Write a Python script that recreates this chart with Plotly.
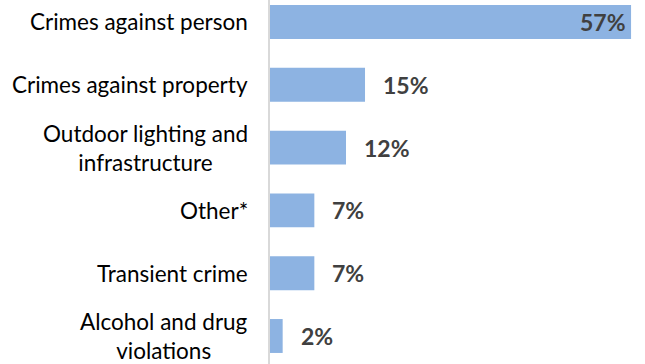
import plotly.graph_objects as go

categories = [
    "Crimes against person",
    "Crimes against property",
    "Outdoor lighting and<br>infrastructure",
    "Other*",
    "Transient crime",
    "Alcohol and drug<br>violations",
]
values = [57, 15, 12, 7, 7, 2]
value_labels = [f"{v}%" for v in values]

bar_color = "#8DB3E2"
label_color = "#404040"
font_family = "Lato, 'Open Sans', sans-serif"

fig = go.Figure(
    go.Bar(
        x=values,
        y=categories,
        orientation="h",
        marker=dict(color=bar_color, line=dict(width=0)),
        hoverinfo="skip",
    )
)

annotations = []
# category names, centred line by line and right-anchored next to the axis
for cat in categories:
    annotations.append(
        dict(
            x=0,
            xref="paper",
            y=cat,
            text=cat,
            showarrow=False,
            xanchor="right",
            align="center",
            xshift=-20,
            font=dict(size=22.5, color="#000000", family=font_family),
        )
    )

# value labels: outside the bar end, except the longest bar which is labelled inside
for cat, v, lab in zip(categories, values, value_labels):
    inside = v == max(values)
    annotations.append(
        dict(
            x=v,
            y=cat,
            text=f"<b>{lab}</b>",
            showarrow=False,
            xanchor="right" if inside else "left",
            xshift=-3 if inside else 16,
            font=dict(size=23, color=label_color, family=font_family),
        )
    )

fig.update_layout(
    width=645,
    height=364,
    margin=dict(l=270, r=0, t=0, b=0),
    paper_bgcolor="white",
    plot_bgcolor="white",
    bargap=0.46,
    showlegend=False,
    annotations=annotations,
    font=dict(family=font_family, size=23, color="#000000"),
    xaxis=dict(
        range=[0, 59.2],
        showgrid=False,
        zeroline=False,
        showticklabels=False,
        showline=False,
        fixedrange=True,
    ),
    yaxis=dict(
        type="category",
        range=[5.446, -0.35],
        showgrid=False,
        zeroline=False,
        showline=True,
        linecolor="#D9D9D9",
        linewidth=1.5,
        ticks="",
        showticklabels=False,
        fixedrange=True,
    ),
)

fig.write_html("out.html")
